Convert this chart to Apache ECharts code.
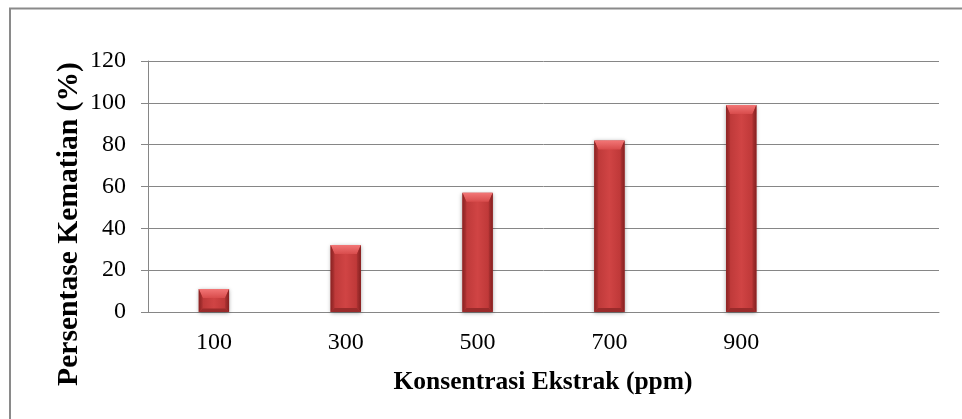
<!DOCTYPE html>
<html>
<head>
<meta charset="utf-8">
<title>Persentase Kematian</title>
<script src="https://cdn.jsdelivr.net/npm/echarts@6/dist/echarts.min.js"></script>
<style>
  html, body { margin: 0; padding: 0; background: #ffffff; }
  #chart { width: 962px; height: 419px; }
</style>
</head>
<body>
<div id="chart"></div>
<script>
// Concentration groups (ppm); the trailing empty slot leaves room on the right.
const categories = ['100', '300', '500', '700', '900', ''];
// Mortality percentage for each concentration
const mortality = [11, 32, 57, 82, 99];
// Value axis range
const yMin = 0;
const yMax = 120;
const yStep = 20;

const xTitle = 'Konsentrasi Ekstrak (ppm)';
const yTitle = 'Persentase Kematian (%)';

const serif = "'Liberation Serif', 'Times New Roman', serif";
const gridGray = '#868686';

// Bevelled column: body plus four bevel faces, sized from the axis scales.
function renderBevelBar(params, api) {
  const idx = api.value(0);
  const val = api.value(1);
  const top = api.coord([idx, val]);
  const base = api.coord([idx, 0]);
  const band = api.size([1, 0])[0];
  const w = band * 0.23;
  const x0 = top[0] - w / 2;
  const y0 = top[1];
  const h = base[1] - top[1];
  const s = Math.min(4, w / 4);
  const t = Math.min(9, h * 0.4);
  const b = Math.min(4, h * 0.15);
  const x1 = x0 + w;
  const y1 = y0 + h;
  return {
    type: 'group',
    children: [
      {
        type: 'rect',
        shape: { x: x0, y: y0, width: w, height: h },
        style: {
          fill: new echarts.graphic.LinearGradient(0, 0, 1, 0, [
            { offset: 0, color: '#b83636' },
            { offset: 0.5, color: '#d04444' },
            { offset: 1, color: '#b83434' }
          ]),
          shadowBlur: 4,
          shadowColor: 'rgba(0,0,0,0.35)',
          shadowOffsetX: 0,
          shadowOffsetY: 1
        }
      },
      {
        type: 'polygon',
        shape: { points: [[x0, y0], [x1, y0], [x1 - s, y0 + t], [x0 + s, y0 + t]] },
        style: {
          fill: new echarts.graphic.LinearGradient(0, 0, 0, 1, [
            { offset: 0, color: '#f27676' },
            { offset: 1, color: '#d84c4c' }
          ])
        }
      },
      {
        type: 'polygon',
        shape: { points: [[x0, y0], [x0 + s, y0 + t], [x0 + s, y1 - b], [x0, y1]] },
        style: {
          fill: new echarts.graphic.LinearGradient(0, 0, 1, 0, [
            { offset: 0, color: '#8a2222' },
            { offset: 1, color: '#b13434' }
          ])
        }
      },
      {
        type: 'polygon',
        shape: { points: [[x1, y0], [x1 - s, y0 + t], [x1 - s, y1 - b], [x1, y1]] },
        style: {
          fill: new echarts.graphic.LinearGradient(1, 0, 0, 0, [
            { offset: 0, color: '#852020' },
            { offset: 1, color: '#ad3232' }
          ])
        }
      },
      {
        type: 'polygon',
        shape: { points: [[x0, y1], [x1, y1], [x1 - s, y1 - b], [x0 + s, y1 - b]] },
        style: { fill: '#9a2b2b' }
      }
    ]
  };
}

const chart = echarts.init(document.getElementById('chart'), null, { renderer: 'canvas' });

chart.setOption({
  animation: false,
  backgroundColor: '#ffffff',
  grid: { left: 148, right: 23, top: 61, bottom: 107, containLabel: false },
  xAxis: {
    type: 'category',
    data: categories,
    boundaryGap: true,
    axisLine: { show: true, lineStyle: { color: gridGray, width: 1 } },
    axisTick: { show: false },
    axisLabel: { color: '#000000', fontFamily: serif, fontSize: 24, margin: 19 },
    splitLine: { show: false }
  },
  yAxis: {
    type: 'value',
    min: yMin,
    max: yMax,
    interval: yStep,
    axisLine: { show: true, lineStyle: { color: gridGray, width: 1 } },
    axisTick: { show: true, inside: false, length: 7, lineStyle: { color: gridGray, width: 1 } },
    axisLabel: { color: '#000000', fontFamily: serif, fontSize: 24, margin: 22 },
    splitLine: { show: true, lineStyle: { color: gridGray, width: 1 } }
  },
  graphic: [
    {
      type: 'polyline',
      silent: true,
      shape: { points: [[10, 425], [10, 8.5], [970, 8.5]] },
      style: { stroke: '#8a8a8a', lineWidth: 2, fill: null }
    },
    {
      type: 'text',
      silent: true,
      x: 543,
      y: 382,
      style: {
        text: xTitle,
        font: 'bold 25.5px ' + serif,
        fill: '#000000',
        align: 'center',
        verticalAlign: 'middle'
      }
    },
    {
      type: 'text',
      silent: true,
      x: 69,
      y: 224,
      rotation: Math.PI / 2,
      style: {
        text: yTitle,
        font: 'bold 29.6px ' + serif,
        fill: '#000000',
        align: 'center',
        verticalAlign: 'middle'
      }
    }
  ],
  series: [
    {
      type: 'custom',
      name: 'Persentase Kematian',
      renderItem: renderBevelBar,
      encode: { x: 0, y: 1 },
      data: mortality.map((v, i) => [i, v]),
      z: 3
    }
  ]
});
</script>
</body>
</html>
